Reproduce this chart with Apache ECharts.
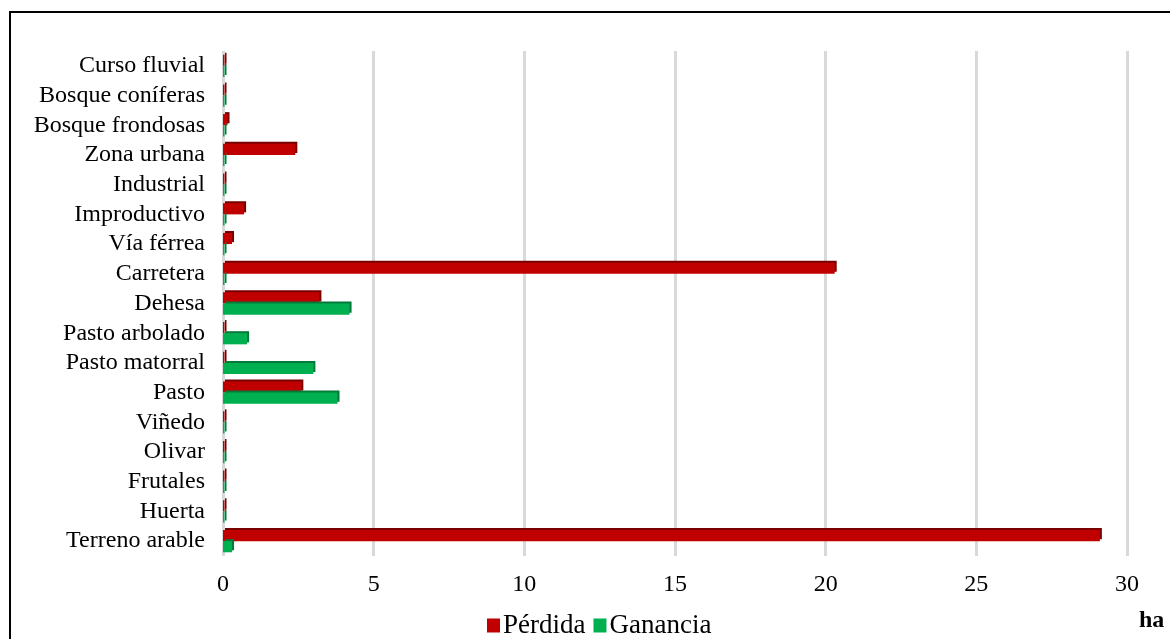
<!DOCTYPE html>
<html>
<head>
<meta charset="utf-8">
<style>
  html, body { margin: 0; padding: 0; background: #ffffff; }
  #chart { width: 1170px; height: 639px; }
</style>
<script src="https://cdn.jsdelivr.net/npm/echarts@6/dist/echarts.min.js"></script>
</head>
<body>
<div id="chart"></div>
<script>
// Land-cover classes, listed bottom to top as they appear on the category axis
const categories = [
  'Terreno arable', 'Huerta', 'Frutales', 'Olivar', 'Viñedo', 'Pasto',
  'Pasto matorral', 'Pasto arbolado', 'Dehesa', 'Carretera', 'Vía férrea',
  'Improductivo', 'Industrial', 'Zona urbana', 'Bosque frondosas',
  'Bosque coníferas', 'Curso fluvial'
];

// Area lost per class (ha)
const perdida = [
  29.1, 0.05, 0.05, 0.05, 0.05, 2.6,
  0.05, 0.05, 3.2, 20.3, 0.3,
  0.7, 0.05, 2.4, 0.15,
  0.05, 0.05
];

// Area gained per class (ha)
const ganancia = [
  0.3, 0.05, 0.05, 0.05, 0.05, 3.8,
  3.0, 0.8, 4.2, 0.05, 0.05,
  0.05, 0.05, 0.05, 0.05,
  0.05, 0.05
];

const xTicks = { min: 0, max: 30, interval: 5 };
const unitLabel = 'ha';

const serif = '"Liberation Serif", "Times New Roman", serif';

const chart = echarts.init(document.getElementById('chart'));

chart.setOption({
  backgroundColor: '#ffffff',
  animation: false,
  textStyle: { fontFamily: serif, color: '#000000' },
  grid: { left: 223, right: 43, top: 51, bottom: 83, containLabel: false },
  legend: {
    data: ['Pérdida', 'Ganancia'],
    top: 607,
    left: 482,
    itemWidth: 13,
    itemHeight: 14,
    itemGap: 8,
    icon: 'rect',
    textStyle: { fontFamily: serif, fontSize: 27, color: '#000000', padding: [0, 0, 0, -2] }
  },
  xAxis: {
    type: 'value',
    min: xTicks.min,
    max: xTicks.max,
    interval: xTicks.interval,
    axisLine: { show: false },
    axisTick: { show: false },
    axisLabel: { fontFamily: serif, fontSize: 24, color: '#000000', margin: 17 },
    splitLine: { show: true, lineStyle: { color: '#d9d9d9', width: 3 } }
  },
  yAxis: {
    type: 'category',
    data: categories,
    axisLine: { show: false },
    axisTick: { show: false },
    axisLabel: { fontFamily: serif, fontSize: 24, color: '#000000', margin: 18, interval: 0 },
    splitLine: { show: false }
  },
  series: [
    {
      name: 'Pérdida',
      type: 'bar',
      data: perdida,
      barGap: '0%',
      barCategoryGap: '25%',
      itemStyle: {
        color: '#c00000',
        shadowColor: '#7a0000',
        shadowOffsetX: 2,
        shadowOffsetY: -2,
        shadowBlur: 0
      }
    },
    {
      name: 'Ganancia',
      type: 'bar',
      data: ganancia,
      barGap: '0%',
      barCategoryGap: '25%',
      itemStyle: {
        color: '#00b050',
        shadowColor: '#007a38',
        shadowOffsetX: 2,
        shadowOffsetY: -2,
        shadowBlur: 0
      }
    }
  ],
  graphic: [
    {
      type: 'rect',
      shape: { x: 10, y: 12, width: 1300, height: 800 },
      style: { fill: null, stroke: '#000000', lineWidth: 2 },
      silent: true
    },
    {
      type: 'text',
      left: 1139,
      top: 609,
      style: {
        text: unitLabel,
        font: 'bold 24px ' + serif,
        fill: '#000000'
      }
    }
  ]
});
</script>
</body>
</html>
